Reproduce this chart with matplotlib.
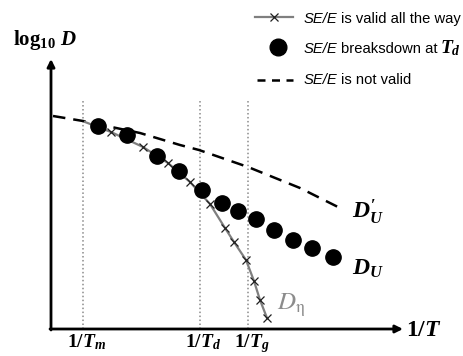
import matplotlib
matplotlib.use('Agg')
import matplotlib.pyplot as plt

plt.rcParams['mathtext.fontset'] = 'custom'
plt.rcParams['mathtext.rm'] = 'Liberation Serif:bold'
plt.rcParams['mathtext.it'] = 'Liberation Serif:italic:bold'
plt.rcParams['mathtext.bf'] = 'Liberation Serif:bold'

# D_U' : SE/E not valid (dashed)
du_prime_x = [0.02, 0.32, 0.89, 1.29, 1.48, 1.97, 2.49, 2.89]
du_prime_y = [2.13, 2.08, 1.96, 1.84, 1.79, 1.62, 1.41, 1.21]

# D_U : SE/E breaks down at Td (filled circles)
du_x = [0.47, 0.76, 1.06, 1.28, 1.51, 1.71, 1.87, 2.05, 2.23, 2.42, 2.61, 2.82]
du_y = [2.03, 1.94, 1.73, 1.58, 1.39, 1.26, 1.18, 1.10, 0.99, 0.89, 0.81, 0.72]

# D_eta : SE/E valid all the way (gray line with crosses)
deta_x = [0.60, 0.92, 1.17, 1.39, 1.59, 1.74, 1.83, 1.95, 2.03, 2.09, 2.16]
deta_y = [1.97, 1.82, 1.66, 1.47, 1.25, 1.01, 0.87, 0.69, 0.48, 0.29, 0.11]
deta_start = (0.34, 2.07)

T_m, T_d, T_g = 0.32, 1.485, 1.97
tick_pos = [T_m, T_d, T_g]
tick_labels = [r'$1/T_m$', r'$1/T_d$', r'$1/T_g$']

W, H = 464, 356
fig = plt.figure(figsize=(W / 100, H / 100), dpi=100)
ax = fig.add_axes([0, 0, 1, 1])
ax.set_xlim(-0.51, 4.13)
ax.set_ylim(-0.27, 3.29)
ax.axis('off')


def px(x, y):
    # image pixel -> data coords
    return (x - 51) / 100, (329 - y) / 100


# axes with arrows
ax.annotate('', xy=(3.52, 0), xytext=(-0.01, 0),
            arrowprops=dict(arrowstyle='-|>', lw=2, color='black',
                            mutation_scale=11, shrinkA=0, shrinkB=0))
ax.annotate('', xy=(0, 2.70), xytext=(0, -0.01),
            arrowprops=dict(arrowstyle='-|>', lw=2, color='black',
                            mutation_scale=11, shrinkA=0, shrinkB=0))

ax.vlines(tick_pos, 0, 2.29, colors='#8a8a8a', linestyles=(0, (1, 1.6)), lw=1.1)

for x, lab in zip(tick_pos, tick_labels):
    ax.text(x + 0.04, -0.18, lab, ha='center', va='baseline', fontsize=14)

ax.text(3.55, -0.065, r'$1/T$', ha='left', va='baseline', fontsize=17)
ax.text(-0.38, 2.84, r'$\log_{10}\,D$', ha='left', va='baseline', fontsize=15)

# curves
ax.plot(du_prime_x, du_prime_y, color='black', lw=1.8, ls=(0, (5, 3.2)))
ax.plot([deta_start[0]] + deta_x, [deta_start[1]] + deta_y, color='#7f7f7f', lw=1.6)
ax.plot(deta_x, deta_y, ls='none', marker='x', ms=5.5, mew=0.9, color='#202020')
ax.plot(du_x, du_y, ls='none', marker='o', ms=11, color='black')

ax.text(3.01, 1.11, r"$D_U^{\prime}$", fontsize=17, va='baseline')
ax.text(3.01, 0.54, r'$D_U$', fontsize=17, va='baseline')
ax.text(2.26, 0.19, r'$D_{\mathrm{\eta}}$', fontsize=18, va='baseline',
        color='#8c8c8c', math_fontfamily='stix')

# legend drawn by hand
x0, x1 = px(255, 0)[0], px(293, 0)[0]
yl = px(0, 17)[1]
ax.plot([x0, x1], [yl, yl], color='#7f7f7f', lw=1.6, clip_on=False)
ax.plot([px(274, 0)[0]], [yl], marker='x', ms=5.5, mew=0.9, color='#202020')
cx, cy = px(278, 47)
ax.plot([cx], [cy], marker='o', ms=12, color='black')
x0, x1 = px(257, 0)[0], px(293, 0)[0]
yd = px(0, 80)[1]
ax.plot([x0, x1], [yd, yd], color='black', lw=1.8, ls=(0, (3.2, 2.6)))

leg_rows = [
    (23, [('SE/E', dict(style='italic')), ('is valid all the way', {})]),
    (53, [('SE/E', dict(style='italic')), ('breaksdown at', {}),
          (r'$T_d$', dict(fontsize=14))]),
    (84, [('SE/E', dict(style='italic')), ('is not valid', {})]),
]
fig.canvas.draw()
renderer = fig.canvas.get_renderer()
for ybase, pieces in leg_rows:
    xs, ys = px(304, ybase)
    for s, kw in pieces:
        opts = dict(fontsize=10.6, family='Liberation Sans', va='baseline', ha='left')
        opts.update(kw)
        t = ax.text(xs, ys, s, **opts)
        bb = t.get_window_extent(renderer)
        xs += bb.width / 100 + 0.03

fig.savefig('out.png', dpi=100)
